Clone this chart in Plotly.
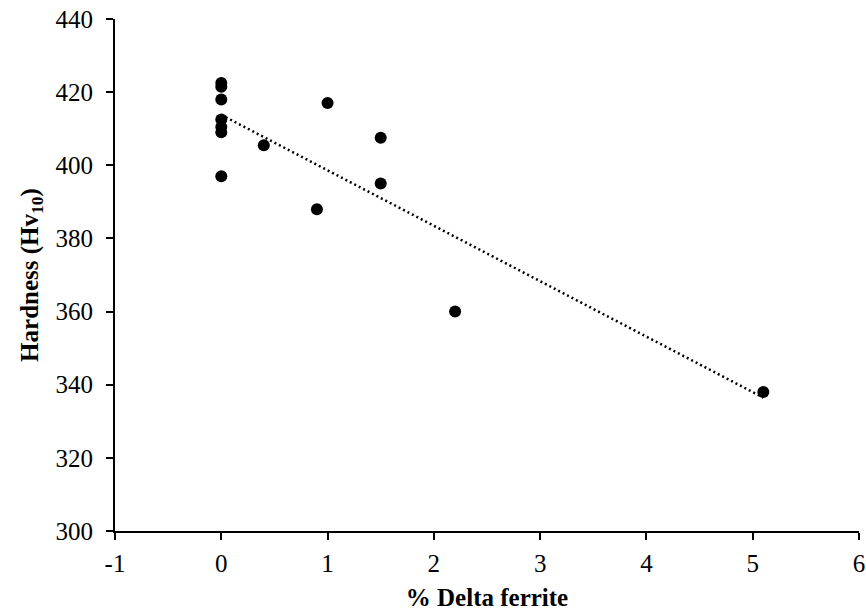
import numpy as np
import plotly.graph_objects as go

# Delta ferrite content (%) and Vickers hardness (Hv10) of each sample
delta_ferrite = [0, 0, 0, 0, 0, 0, 0, 0.4, 0.9, 1.0, 1.5, 1.5, 2.2, 5.1]
hardness = [422.5, 421.5, 418, 412.5, 410.5, 409, 397, 405.5, 388, 417, 407.5, 395, 360, 338]

x_ticks = [-1, 0, 1, 2, 3, 4, 5, 6]
x_tick_text = ["-1", "0", "1", "2", "3", "4", "5", "6"]
y_ticks = [300, 320, 340, 360, 380, 400, 420, 440]

# Linear trend over the span of the data
slope, intercept = np.polyfit(delta_ferrite, hardness, 1)
trend_x = np.array([min(delta_ferrite), max(delta_ferrite)])
trend_y = slope * trend_x + intercept

font_family = "Liberation Serif, Times New Roman, serif"

fig = go.Figure()
fig.add_trace(go.Scatter(
    x=trend_x, y=trend_y, mode="lines",
    line=dict(color="black", width=2.5, dash="2px,3px"),
    hoverinfo="skip", showlegend=False,
))
fig.add_trace(go.Scatter(
    x=delta_ferrite, y=hardness, mode="markers",
    marker=dict(color="black", size=12),
    showlegend=False,
))

axis_common = dict(
    showline=True, linecolor="black", linewidth=2,
    ticks="outside", ticklen=7, tickwidth=1.5, tickcolor="black",
    showgrid=False, zeroline=False, automargin=False,
    tickfont=dict(family=font_family, size=25, color="black"),
    mirror=False,
)

fig.update_xaxes(
    range=[-1, 6], tickmode="array", tickvals=x_ticks, ticktext=x_tick_text,
    ticklabelstandoff=2,
    title=dict(text="<b>% Delta ferrite</b>", standoff=12,
               font=dict(family=font_family, size=25, color="black")),
    **axis_common,
)
fig.update_yaxes(
    range=[300, 440], tickmode="array", tickvals=y_ticks,
    ticklabelstandoff=8,
    title=dict(text="<b>Hardness (Hv<sub>10</sub>)</b>", standoff=10,
               font=dict(family=font_family, size=25, color="black")),
    **axis_common,
)

fig.update_layout(
    width=866, height=614,
    margin=dict(l=115, r=7, t=19, b=83),
    plot_bgcolor="white", paper_bgcolor="white",
    font=dict(family=font_family, color="black"),
)

fig.write_html("out.html")
